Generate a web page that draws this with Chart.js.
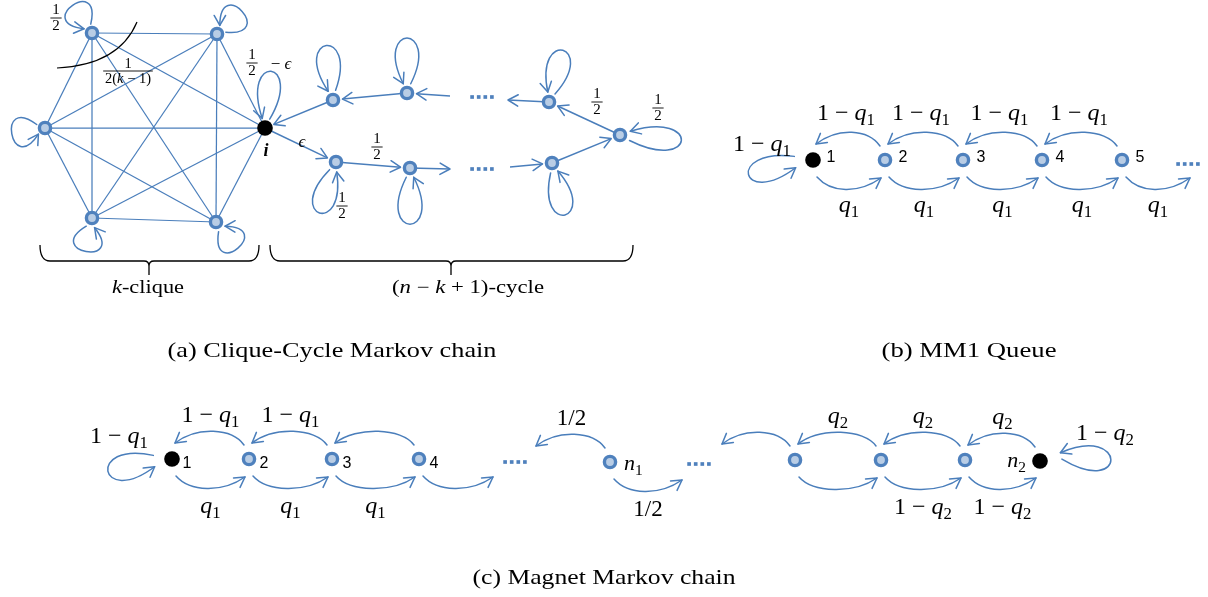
<!DOCTYPE html>
<html>
<head>
<meta charset="utf-8">
<script src="https://cdn.jsdelivr.net/npm/chart.js@4.4.1/dist/chart.umd.min.js"></script>
<style>
  html, body { margin: 0; padding: 0; background: #fff; }
  canvas { display: block; }
</style>
</head>
<body>
<canvas id="c" width="1208" height="597"></canvas>
<script>
// ---------- (a) clique-cycle chain ----------
const cliqueNodes = [[92, 33], [217, 34], [45, 128], [265, 128], [92, 218], [216, 222]];
const cliqueHub = 3;                       // node i, shared with the cycle
const cycleUpper = [[333, 100], [407, 93], [549, 102]];
const cycleLower = [[336, 162], [410, 168], [552, 163]];
const cycleTurn = [620, 135];
const cycleOpenEnds = { lowerOut: [450, 169], lowerIn: [510, 167], upperOut: [508, 100], upperIn: [450, 96] };
const cycleDots = [[482, 169], [482, 97]];

// ---------- (b) MM1 queue ----------
const mm1X = [813, 885, 963, 1042, 1122];
const mm1Y = 160;
const mm1Names = ['1', '2', '3', '4', '5'];
const mm1BackLabels = ['1 − q_1', '1 − q_1', '1 − q_1', '1 − q_1'];
const mm1FwdLabels = ['q_1', 'q_1', 'q_1', 'q_1', 'q_1'];
const mm1StayLabel = '1 − q_1';
const mm1TailX = 1194;
const mm1Dots = [[1188, 164]];

// ---------- (c) magnet chain ----------
const magX = [172, 249, 332, 419, 610, 795, 881, 965, 1040];
const magY = [459, 459, 459, 459, 462, 460, 460, 460, 461];
const magBlack = [0, 8];
const magNames = ['1', '2', '3', '4', 'n_1', '', '', '', 'n_2'];
const magEnds = { leftIn: 497, leftOut: 533, midIn: 686, midOut: 719 };
const magBack = [[1, 0, '1 − q_1'], [2, 1, '1 − q_1'], [3, 2, ''], [4, 'leftOut', '1/2'],
                 [5, 'midOut', ''], [6, 5, 'q_2'], [7, 6, 'q_2'], [8, 7, 'q_2']];
const magFwd = [[0, 1, 'q_1'], [1, 2, 'q_1'], [2, 3, 'q_1'], [3, 'leftIn', ''],
                [4, 'midIn', '1/2'], [5, 6, ''], [6, 7, '1 − q_2'], [7, 8, '1 − q_2']];
const magStayLeft = '1 − q_1';
const magStayRight = '1 − q_2';
const magDots = [[515, 462], [699, 464]];

// ---------- styling ----------
const SERIF = '"Liberation Serif","DejaVu Serif",serif';
const SANS = '"Liberation Sans","DejaVu Sans",sans-serif';
const EDGE = '#4a7ebb';
const RING = '#4f81bd';
const FILL = '#b9cde5';

const pt = ([x, y]) => ({ x, y });
const datasets = [];

// states
const blueNodes = [
  ...cliqueNodes.filter((_, k) => k !== cliqueHub),
  ...cycleUpper, ...cycleLower, cycleTurn,
  ...mm1X.slice(1).map(x => [x, mm1Y]),
  ...magX.map((x, k) => [x, magY[k]]).filter((_, k) => !magBlack.includes(k))
];
const blackNodes = [cliqueNodes[cliqueHub], [mm1X[0], mm1Y], ...magBlack.map(k => [magX[k], magY[k]])];
datasets.push({ label: 'states', data: blueNodes.map(pt), pointRadius: 5.6, pointBorderWidth: 3.4,
  pointBackgroundColor: FILL, pointBorderColor: RING, order: 0 });
datasets.push({ label: 'marked', data: blackNodes.map(pt), pointRadius: 7.8, pointBorderWidth: 0,
  pointBackgroundColor: '#000', order: 0 });

// ellipsis dots
const dotPts = [];
[...cycleDots, ...mm1Dots, ...magDots].forEach(([x, y]) => {
  for (let k = 0; k < 4; k++) dotPts.push({ x: x + (k - 1.5) * 6.6, y });
});
datasets.push({ label: 'dots', data: dotPts, pointStyle: 'rect', pointRadius: 2.6, pointBorderWidth: 0,
  pointBackgroundColor: RING, order: 0 });

// clique edges: every pair
for (let a = 0; a < cliqueNodes.length; a++) {
  for (let b = a + 1; b < cliqueNodes.length; b++) {
    datasets.push({ data: [pt(cliqueNodes[a]), pt(cliqueNodes[b])], showLine: true, borderColor: EDGE,
      borderWidth: 1.25, pointRadius: 0, order: 2 });
  }
}

// cycle edges with arrowheads (tip stops short of a node)
const hub = cliqueNodes[cliqueHub];
const cycleEdges = [
  [hub, cycleLower[0], true], [cycleLower[0], cycleLower[1], true], [cycleLower[1], cycleOpenEnds.lowerOut, false],
  [cycleOpenEnds.lowerIn, cycleLower[2], true], [cycleLower[2], cycleTurn, true], [cycleTurn, cycleUpper[2], true],
  [cycleUpper[2], cycleOpenEnds.upperOut, false], [cycleOpenEnds.upperIn, cycleUpper[1], true],
  [cycleUpper[1], cycleUpper[0], true], [cycleUpper[0], hub, true]
];
const arrowSets = [];
cycleEdges.forEach(([a, b, toNode]) => {
  let tip = b;
  if (toNode) {
    const dx = b[0] - a[0], dy = b[1] - a[1], d = Math.hypot(dx, dy), gap = 9.5;
    tip = [b[0] - dx / d * gap, b[1] - dy / d * gap];
  }
  arrowSets.push(datasets.length);
  datasets.push({ data: [pt(a), pt(tip)], showLine: true, borderColor: EDGE, borderWidth: 1.5,
    pointRadius: 0, order: 2 });
});

// ---------- drawing helpers ----------
function arrowHead(ctx, tip, from, len = 11.5, ang = 0.52) {
  const a = Math.atan2(tip[1] - from[1], tip[0] - from[0]);
  ctx.beginPath();
  ctx.moveTo(tip[0] - len * Math.cos(a - ang), tip[1] - len * Math.sin(a - ang));
  ctx.lineTo(tip[0], tip[1]);
  ctx.lineTo(tip[0] - len * Math.cos(a + ang), tip[1] - len * Math.sin(a + ang));
  ctx.stroke();
}
function bezierArrow(ctx, p0, p1, p2, p3) {
  ctx.beginPath();
  ctx.moveTo(p0[0], p0[1]);
  ctx.bezierCurveTo(p1[0], p1[1], p2[0], p2[1], p3[0], p3[1]);
  ctx.stroke();
  arrowHead(ctx, p3, p2);
}
// self loop: start angle, arrow angle, two control angles, reach, start radius
function selfLoop(ctx, c, a0, a3, c1, c2, len, r0) {
  const rad = d => d * Math.PI / 180;
  const at = (ang, r) => [c[0] + r * Math.cos(rad(ang)), c[1] + r * Math.sin(rad(ang))];
  bezierArrow(ctx, at(a0, r0), at(c1, len), at(c2, len), at(a3, r0));
}
function backArc(ctx, xF, xT, y) {
  bezierArrow(ctx, [xF - 5, y - 14], [xF - 17, y - 31], [xT + 25, y - 33], [xT + 3, y - 16]);
}
function fwdArc(ctx, xF, xT, y) {
  bezierArrow(ctx, [xF + 4, y + 17], [xF + 18, y + 33], [xT - 27, y + 34], [xT - 4, y + 18]);
}

function mathPieces(str) {
  const out = [];
  for (let i = 0; i < str.length; i++) {
    const ch = str[i];
    if (ch === '_') { out.push({ t: str[++i], sub: true }); continue; }
    out.push({ t: ch, italic: /[a-zA-Zϵ]/.test(ch) });
  }
  return out;
}
function mathFont(p, size) {
  return `${p.italic ? 'italic ' : ''}${p.bold ? 'bold ' : ''}${p.sub ? size * 0.7 : size}px ${SERIF}`;
}
function mathWidth(ctx, str, size) {
  let w = 0;
  mathPieces(str).forEach(p => { ctx.font = mathFont(p, size); w += ctx.measureText(p.t).width; });
  return w;
}
function drawMath(ctx, str, x, y, size, align = 'center') {
  const ps = mathPieces(str);
  let w = 0;
  ps.forEach(p => { ctx.font = mathFont(p, size); p.w = ctx.measureText(p.t).width; w += p.w; });
  let cx = align === 'center' ? x - w / 2 : align === 'right' ? x - w : x;
  ctx.textAlign = 'left'; ctx.textBaseline = 'alphabetic';
  ps.forEach(p => {
    ctx.font = mathFont(p, size);
    ctx.fillText(p.t, cx, y + (p.sub ? size * 0.22 : 0));
    cx += p.w;
  });
}
function drawFrac(ctx, num, den, cx, cy, size) {
  const bw = Math.max(mathWidth(ctx, num, size), mathWidth(ctx, den, size)) + size * 0.25;
  ctx.save();
  ctx.strokeStyle = '#000'; ctx.lineWidth = 0.9;
  ctx.beginPath(); ctx.moveTo(cx - bw / 2, cy); ctx.lineTo(cx + bw / 2, cy); ctx.stroke();
  ctx.restore();
  drawMath(ctx, num, cx, cy - size * 0.24, size);
  drawMath(ctx, den, cx, cy + size * 0.8, size);
}
// text of mixed upright / italic runs, stretched to a set width
function drawFit(ctx, runs, cx, y, size, width) {
  let w = 0;
  runs.forEach(r => { ctx.font = `${r[1] ? 'italic ' : ''}${size}px ${SERIF}`; r.w = ctx.measureText(r[0]).width; w += r.w; });
  ctx.save();
  ctx.translate(cx, y); ctx.scale(width / w, 1);
  let x = -w / 2;
  ctx.textAlign = 'left'; ctx.textBaseline = 'alphabetic';
  runs.forEach(r => { ctx.font = `${r[1] ? 'italic ' : ''}${size}px ${SERIF}`; ctx.fillText(r[0], x, 0); x += r.w; });
  ctx.restore();
}
function brace(ctx, x1, x2, xm, yTop, yMid, yTip) {
  const r = 5;
  ctx.beginPath();
  ctx.moveTo(x1, yTop);
  ctx.quadraticCurveTo(x1, yMid, x1 + 2 * r, yMid);
  ctx.lineTo(xm - r, yMid);
  ctx.quadraticCurveTo(xm, yMid, xm, yMid + r);
  ctx.lineTo(xm, yTip);
  ctx.moveTo(xm, yMid + r);
  ctx.quadraticCurveTo(xm, yMid, xm + r, yMid);
  ctx.lineTo(x2 - 2 * r, yMid);
  ctx.quadraticCurveTo(x2, yMid, x2, yTop);
  ctx.stroke();
}

// ---------- diagram plugin: curved transitions, loops and text ----------
const diagram = {
  id: 'diagram',
  beforeDatasetsDraw(chart) {
    const ctx = chart.ctx;
    const sx = chart.scales.x, sy = chart.scales.y;
    const P = ([x, y]) => [sx.getPixelForValue(x), sy.getPixelForValue(y)];
    ctx.save();
    ctx.strokeStyle = EDGE; ctx.lineWidth = 1.5; ctx.lineCap = 'round'; ctx.lineJoin = 'round';

    // arrowheads on the straight cycle edges
    arrowSets.forEach(i => {
      const [e0, e1] = chart.getDatasetMeta(i).data;
      arrowHead(ctx, [e1.x, e1.y], [e0.x, e0.y]);
    });

    // clique self loops
    const cliqueLoopShapes = [
      [-98, -152, -80, -170, 60, 9], [-12, -72, 3, -87, 60, 9], [203, 137, 215, 125, 60, 9],
      [-62, -106, -60, -108, 80, 10], [125, 75, 145, 55, 60, 10], [75, 25, 95, 5, 60, 10]
    ];
    cliqueNodes.forEach((n, k) => selfLoop(ctx, P(n), ...cliqueLoopShapes[k]));

    // cycle self loops
    const cycleLoopNodes = [...cycleUpper, ...cycleLower, cycleTurn];
    const cycleLoopShapes = [
      [-75, -119, -71, -123, 78, 10], [-68, -112, -64, -116, 78, 10], [-53, -97, -49, -101, 76, 10],
      [130, 86, 134, 82, 76, 10], [112, 68, 116, 64, 80, 10], [98, 54, 102, 50, 76, 10],
      [30, -20, 27, -17, 85, 11]
    ];
    cycleLoopNodes.forEach((n, k) => selfLoop(ctx, P(n), ...cycleLoopShapes[k]));

    // MM1 queue arcs
    const yq = sy.getPixelForValue(mm1Y);
    selfLoop(ctx, P([mm1X[0], mm1Y]), 191, 156, 188, 146, 88, 19);
    for (let k = 1; k < mm1X.length; k++) backArc(ctx, sx.getPixelForValue(mm1X[k]), sx.getPixelForValue(mm1X[k - 1]), yq);
    for (let k = 0; k < mm1X.length; k++) {
      const to = k + 1 < mm1X.length ? mm1X[k + 1] : mm1TailX;
      fwdArc(ctx, sx.getPixelForValue(mm1X[k]), sx.getPixelForValue(to), yq);
    }

    // magnet chain arcs
    const endX = t => sx.getPixelForValue(typeof t === 'number' ? magX[t] : magEnds[t]);
    magBack.forEach(([f, t]) => backArc(ctx, sx.getPixelForValue(magX[f]), endX(t), sy.getPixelForValue(magY[f])));
    magFwd.forEach(([f, t]) => fwdArc(ctx, sx.getPixelForValue(magX[f]), endX(t), sy.getPixelForValue(magY[f])));
    selfLoop(ctx, P([magX[0], magY[0]]), 191, 156, 192, 146, 88, 19);
    selfLoop(ctx, P([magX[8], magY[8]]), -5, -22, 23, -23, 95, 22);
    ctx.restore();
  },

  afterDatasetsDraw(chart) {
    const ctx = chart.ctx;
    const sx = chart.scales.x, sy = chart.scales.y;
    const X = v => sx.getPixelForValue(v), Y = v => sy.getPixelForValue(v);
    ctx.save();
    ctx.fillStyle = '#000'; ctx.strokeStyle = '#000';

    // clique annotations
    ctx.lineWidth = 1.2;
    ctx.beginPath(); ctx.moveTo(X(57), Y(68)); ctx.quadraticCurveTo(X(119), Y(65), X(137), Y(22)); ctx.stroke();
    drawFrac(ctx, '1', '2', 56, 18, 15);
    drawFrac(ctx, '1', '2(k − 1)', 128, 71, 14.5);
    drawFrac(ctx, '1', '2', 252, 63, 15);
    drawMath(ctx, '− ϵ', 281, 69, 17);
    ctx.font = `italic bold 18px ${SERIF}`; ctx.textAlign = 'center'; ctx.textBaseline = 'alphabetic';
    ctx.fillText('i', X(cliqueNodes[cliqueHub][0]) + 1, 156);

    // cycle annotations
    drawMath(ctx, 'ϵ', 302, 147, 17);
    drawFrac(ctx, '1', '2', 377, 147, 15);
    drawFrac(ctx, '1', '2', 342, 206, 15);
    drawFrac(ctx, '1', '2', 597, 102, 15);
    drawFrac(ctx, '1', '2', 658, 108, 15);

    // braces and their captions
    ctx.lineWidth = 1.3;
    brace(ctx, 40, 259, 149, 245, 261, 275);
    brace(ctx, 270, 633, 451, 245, 261, 275);
    drawFit(ctx, [['k', true], ['-clique', false]], 148, 293, 18, 72);
    drawFit(ctx, [['(', false], ['n', true], [' − ', false], ['k', true], [' + 1)-cycle', false]], 468, 293, 18, 152);

    // MM1 labels
    ctx.textAlign = 'center'; ctx.textBaseline = 'middle'; ctx.font = `16px ${SANS}`;
    mm1Names.forEach((s, k) => ctx.fillText(s, X(mm1X[k]) + 18, Y(mm1Y) - 2));
    drawMath(ctx, mm1StayLabel, 762, Y(mm1Y) - 9, 24);
    mm1BackLabels.forEach((s, k) => drawMath(ctx, s, (X(mm1X[k]) + X(mm1X[k + 1])) / 2 - 3, Y(mm1Y) - 40, 24));
    mm1FwdLabels.forEach((s, k) => {
      const to = k + 1 < mm1X.length ? mm1X[k + 1] : mm1TailX;
      drawMath(ctx, s, (X(mm1X[k]) + X(to)) / 2, Y(mm1Y) + 52, 24);
    });

    // magnet labels
    const endX = t => X(typeof t === 'number' ? magX[t] : magEnds[t]);
    magNames.forEach((s, k) => {
      if (!s) return;
      if (s.includes('_')) {
        if (k === 8) drawMath(ctx, s, X(magX[k]) - 14, Y(magY[k]) + 6, 22, 'right');
        else drawMath(ctx, s, X(magX[k]) + 14, Y(magY[k]) + 8, 22, 'left');
      } else {
        ctx.textAlign = 'center'; ctx.textBaseline = 'middle'; ctx.font = `16px ${SANS}`;
        ctx.fillText(s, X(magX[k]) + 15, Y(magY[k]) + 5);
      }
    });
    magBack.forEach(([f, t, s]) => { if (s) drawMath(ctx, s, (X(magX[f]) + endX(t)) / 2, Y(magY[f]) - 37, s === '1/2' ? 23 : 24); });
    magFwd.forEach(([f, t, s]) => { if (s) drawMath(ctx, s, (X(magX[f]) + endX(t)) / 2, Y(magY[f]) + 54, s === '1/2' ? 23 : 24); });
    drawMath(ctx, magStayLeft, 119, 443, 24);
    drawMath(ctx, magStayRight, 1105, 440, 24);

    // captions
    drawFit(ctx, [['(a) Clique-Cycle Markov chain', false]], 332, 357, 22, 329);
    drawFit(ctx, [['(b) MM1 Queue', false]], 969, 357, 22, 175);
    drawFit(ctx, [['(c) Magnet Markov chain', false]], 604, 584, 22, 263);
    ctx.restore();
  }
};

new Chart(document.getElementById('c'), {
  type: 'scatter',
  data: { datasets },
  options: {
    responsive: false,
    animation: false,
    events: [],
    layout: { padding: 0, autoPadding: false },
    scales: {
      x: { type: 'linear', min: 0, max: 1208, display: false },
      y: { type: 'linear', min: 0, max: 597, reverse: true, display: false }
    },
    plugins: { legend: { display: false }, tooltip: { enabled: false } }
  },
  plugins: [diagram]
});
</script>
</body>
</html>
